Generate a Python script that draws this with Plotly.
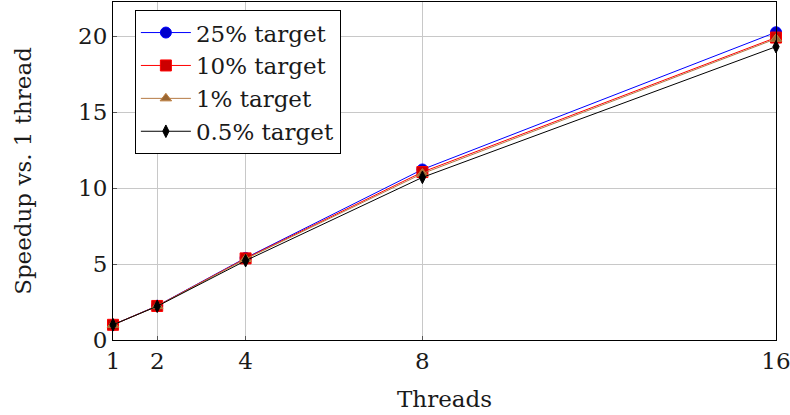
import plotly.graph_objects as go

threads = [1, 2, 4, 8, 16]
s25 = [1.0, 2.25, 5.4, 11.22, 20.25]
s10 = [1.0, 2.24, 5.37, 11.05, 19.9]
s1 = [1.0, 2.23, 5.33, 10.95, 19.82]
s05 = [1.0, 2.22, 5.22, 10.7, 19.3]
names = ["25% target", "10% target", "1% target", "0.5% target"]
x_ticks = [1, 2, 4, 8, 16]
y_ticks = [0, 5, 10, 15, 20]

FONT = "DejaVu Serif"
FS = 23

styles = [
    dict(line="#0000ff", fill="#0000cc", border="#0000ff", symbol="circle", size=11),
    dict(line="#ff0000", fill="#cc0000", border="#ff0000", symbol="square", size=11),
    dict(line="#b57a45", fill="#996633", border="#bf8040", symbol="triangle-up", size=10),
    dict(line="#000000", fill="#000000", border="#000000", symbol="diamond-tall", size=9),
]

fig = go.Figure()
for ys, name, st in zip([s25, s10, s1, s05], names, styles):
    fig.add_trace(go.Scatter(
        x=threads, y=ys, name=name, mode="lines+markers",
        line=dict(color=st["line"], width=1),
        marker=dict(symbol=st["symbol"], size=st["size"], color=st["fill"],
                    line=dict(color=st["border"], width=1)),
        cliponaxis=False,
    ))

fig.update_layout(
    width=790, height=415,
    margin=dict(l=113, r=14, t=2, b=75),
    paper_bgcolor="white", plot_bgcolor="white",
    font=dict(family=FONT, size=FS, color="#1a1a1a"),
    showlegend=True,
    legend=dict(
        x=0.033, y=0.976, xanchor="left", yanchor="top",
        bordercolor="black", borderwidth=1, bgcolor="white",
        font=dict(family=FONT, size=FS, color="#1a1a1a"),
        tracegroupgap=0, itemwidth=50,
    ),
    xaxis=dict(
        range=[1, 16], tickvals=x_ticks, ticktext=[str(v) for v in x_ticks],
        showgrid=True, gridcolor="#c8c8c8", gridwidth=1,
        showline=True, linecolor="black", linewidth=1, mirror=True,
        ticks="inside", ticklen=4, tickcolor="#555555",
        zeroline=False, ticklabeloverflow="allow", automargin=False,
        title=dict(text="Threads", font=dict(family=FONT, size=FS), standoff=18),
        tickfont=dict(family=FONT, size=FS),
    ),
    yaxis=dict(
        range=[0, 22.24], tickvals=y_ticks, ticktext=[str(v) for v in y_ticks],
        showgrid=True, gridcolor="#c8c8c8", gridwidth=1,
        showline=True, linecolor="black", linewidth=1, mirror=True,
        ticks="inside", ticklen=4, tickcolor="#555555",
        zeroline=False, automargin=False,
        title=dict(text="Speedup vs. 1 thread", font=dict(family=FONT, size=FS), standoff=40),
        tickfont=dict(family=FONT, size=FS),
    ),
)

fig.write_html("out.html")
